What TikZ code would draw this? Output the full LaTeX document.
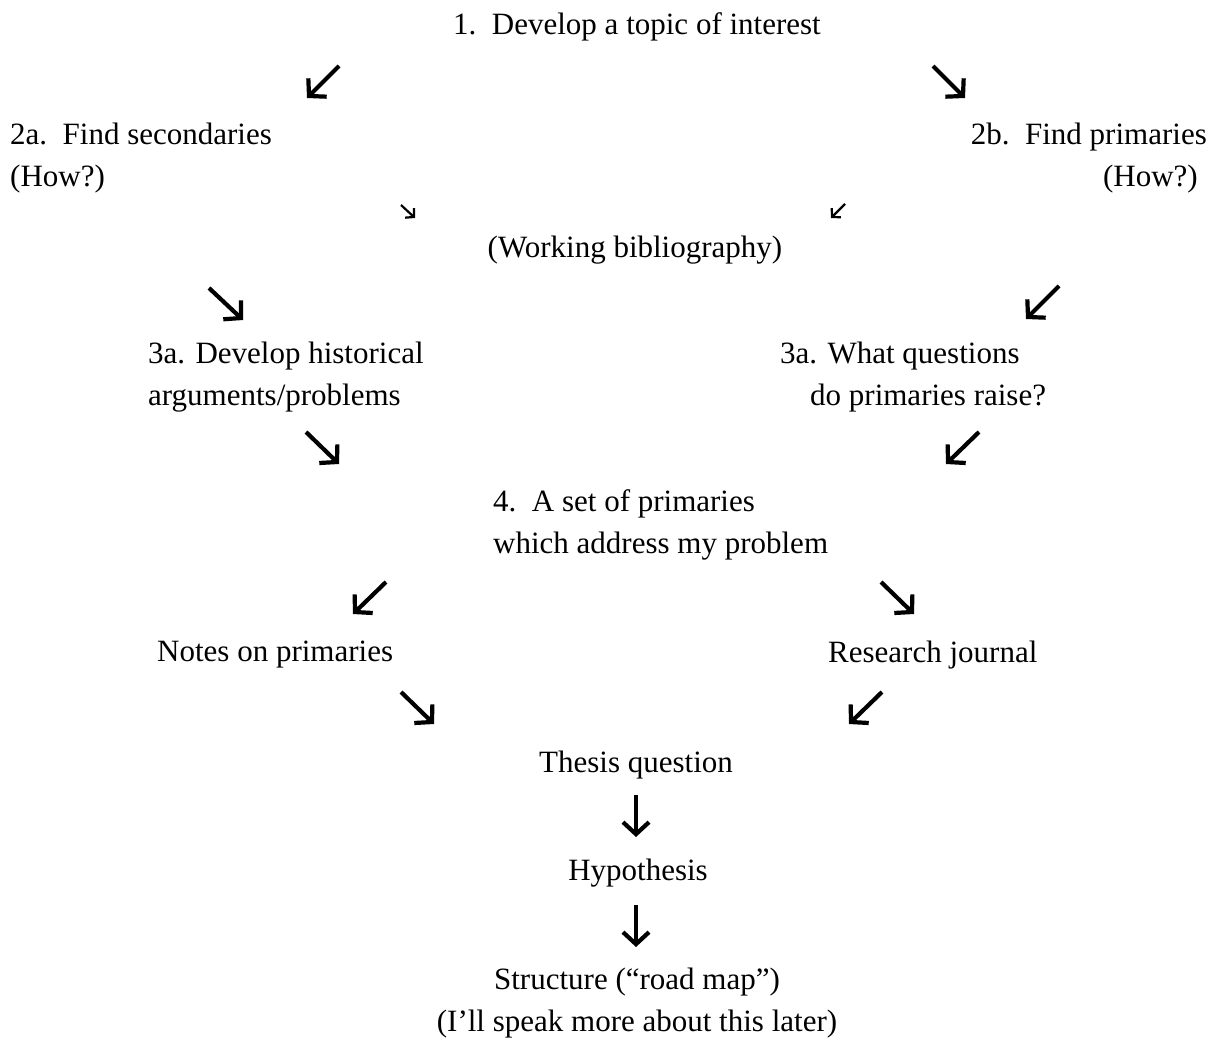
\documentclass[tikz,border=0pt]{standalone}
\usepackage{fontspec}
\setmainfont{Liberation Serif}
\usetikzlibrary{arrows.meta}
\begin{document}
\begin{tikzpicture}[x=1pt,y=-1pt,
  txt/.style={inner sep=0pt,font=\fontsize{31}{42}\selectfont,align=left},
  arr/.style={line width=4.2pt,-{Straight Barb[length=12pt,width=26pt,line width=4.2pt]}},
  sarr/.style={line width=2.2pt,-{Straight Barb[length=6pt,width=13pt,line width=2.2pt]}}]
\useasboundingbox (0,0) rectangle (1215,1039);
% text nodes
\node[txt,anchor=center] (t1) at (637,27) {1.\ \ Develop a topic of interest};
\node[txt,anchor=west] (t2a) at (10,158) {2a.\ \ Find secondaries\\(How?)};
\node[txt,anchor=east,align=right] (t2b) at (1207,158) {2b.\ \ Find primaries\\(How?)\hspace*{9pt}};
\node[txt,anchor=center] (twb) at (635,250) {(Working bibliography)};
\node[txt,anchor=west] (t3a) at (148,377) {3a. Develop historical\\arguments/problems};
\node[txt,anchor=west] (t3b) at (780,377) {3a. What questions\\\hspace*{30pt}do primaries raise?};
\node[txt,anchor=west] (t4) at (493,525) {4.\ \ A set of primaries\\which address my problem};
\node[txt,anchor=west] (tn) at (157,655) {Notes on primaries};
\node[txt,anchor=west] (tr) at (828,655) {Research journal};
\node[txt,anchor=center] (tt) at (636,765) {Thesis question};
\node[txt,anchor=center] (th) at (638,873) {Hypothesis};
\node[txt,anchor=center,align=center] (ts) at (637,1003) {Structure (“road map”)\\(I’ll speak more about this later)};
% arrow end points
\coordinate (a1s) at (339,66);  \coordinate (a1e) at (307,98);
\coordinate (a2s) at (933,66);  \coordinate (a2e) at (965,98);
\coordinate (a3s) at (401,205); \coordinate (a3e) at (415,218);
\coordinate (a4s) at (845,204); \coordinate (a4e) at (831,218);
\coordinate (a5s) at (209,288); \coordinate (a5e) at (243,320);
\coordinate (a6s) at (1059,286);\coordinate (a6e) at (1026,319);
\coordinate (a7s) at (306,432); \coordinate (a7e) at (339,464);
\coordinate (a8s) at (979,432); \coordinate (a8e) at (946,464);
\coordinate (a9s) at (386,582); \coordinate (a9e) at (353,614);
\coordinate (a10s) at (881,582);\coordinate (a10e) at (914,614);
\coordinate (a11s) at (401,692);\coordinate (a11e) at (434,724);
\coordinate (a12s) at (882,692);\coordinate (a12e) at (849,724);
\coordinate (a13s) at (636,795);\coordinate (a13e) at (636,837);
\coordinate (a14s) at (636,905);\coordinate (a14e) at (636,947);
% arrows
\draw[arr] (a1s) -- (a1e);
\draw[arr] (a2s) -- (a2e);
\draw[sarr] (a3s) -- (a3e);
\draw[sarr] (a4s) -- (a4e);
\draw[arr] (a5s) -- (a5e);
\draw[arr] (a6s) -- (a6e);
\draw[arr] (a7s) -- (a7e);
\draw[arr] (a8s) -- (a8e);
\draw[arr] (a9s) -- (a9e);
\draw[arr] (a10s) -- (a10e);
\draw[arr] (a11s) -- (a11e);
\draw[arr] (a12s) -- (a12e);
\draw[arr] (a13s) -- (a13e);
\draw[arr] (a14s) -- (a14e);
\end{tikzpicture}
\end{document}
